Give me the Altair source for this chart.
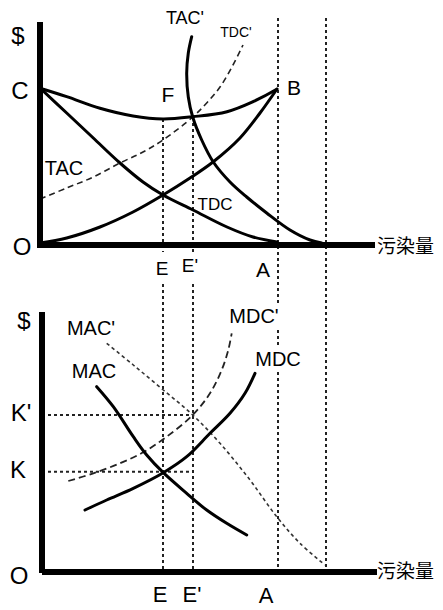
import altair as alt
import pandas as pd

# ---------------- data (picture coordinates) ----------------
# top panel curves
tac_x = [40, 66.7, 100, 133, 163, 193, 227, 253, 276.7]
tac_y = [88.3, 96.7, 108.3, 116, 119, 116.7, 111.7, 101.7, 89.3]

tdc_x = [40, 66.7, 93.3, 120, 143, 163, 193, 227, 253, 277]
tdc_y = [88, 113, 138, 163, 182, 195, 210, 227, 237, 242]

rise_x = [40, 66.7, 100, 133, 163, 190, 213, 240, 260, 277]
rise_y = [243, 238, 227, 212, 195, 178, 162, 138, 113, 89]

tacp_x = [191.7, 188.3, 186.7, 188.3, 192.7, 201.7, 213.3, 230, 246.7, 266.7, 290, 310, 321.7]
tacp_y = [36.7, 53, 73, 97, 117, 140, 162, 182, 197, 213, 230, 240, 243]

tdcp_x = [40, 66.7, 93.3, 120, 143, 163, 192.7, 206.7, 220, 233, 243]
tdcp_y = [199, 188, 177, 163, 152, 140, 117, 103, 87, 65, 45]

# bottom panel curves
mac_x = [96.7, 113.3, 133.3, 146.7, 163.3, 186.7, 206.7, 226.7, 246.7]
mac_y = [386.7, 406.7, 436.7, 455, 472.7, 493.3, 510, 523.3, 535]

mdc_x = [85, 106.7, 133.3, 163.3, 186.7, 210, 230, 245, 255]
mdc_y = [510, 500, 488.3, 472.7, 456.7, 433.3, 413.3, 393.3, 373.3]

mdcp_x = [68.3, 93.3, 120, 143.3, 166.7, 192.7, 210, 221.7, 228.3, 231.7]
mdcp_y = [481, 473.3, 463.3, 452.3, 436.7, 415, 393.3, 370, 350, 333.3]

macp_x = [106.7, 133.3, 163.3, 192.7, 220, 250, 276.7, 300, 325]
macp_y = [343.3, 365, 390, 415, 443.3, 480, 516.7, 543.3, 565]

# axes (x, y, x2, y2)
axis_x = [40, 40, 42, 42]
axis_y = [22, 245, 312, 572]
axis_x2 = [40, 375, 42, 377]
axis_y2 = [248, 245, 573, 572]

# dotted guide segments
guide_x = [163, 163, 193, 193, 278, 278, 278, 326, 42, 42]
guide_y = [119, 284, 117, 284, 18, 330, 372, 18, 415, 471.7]
guide_x2 = [163, 163, 193, 193, 278, 278, 278, 326, 193, 193]
guide_y2 = [252, 572, 252, 572, 303, 347, 572, 572, 415, 471.7]

# labels
lab_text = ["$", "C", "O", "F", "B", "TAC'", "TDC'", "TAC", "TDC", "E", "E'", "A",
            "$", "MAC'", "MDC'", "MDC", "MAC", "K'", "K", "O", "E", "E'", "A"]
lab_x = [18, 20, 22, 168, 294, 185, 236, 64, 215, 162, 190, 263,
         24, 91, 254, 278, 94, 21, 18, 19, 160, 192, 266]
lab_y = [37, 92, 248, 96, 89, 19, 33, 169, 205, 269, 266, 271,
         322, 329, 317, 360, 372, 414, 471, 577, 595, 595, 596]
lab_size = [24, 24, 24, 21, 21, 18, 14, 20, 17, 19, 19, 21,
            24, 20, 20, 20, 20, 24, 24, 24, 22, 22, 22]

cjk_text = ["污染量", "污染量"]
cjk_x = [377, 377]
cjk_y = [247, 572]

# ---------------- chart ----------------
xs = alt.Scale(domain=[8, 435], nice=False, zero=False)
ys = alt.Scale(domain=[8, 602], nice=False, zero=False, reverse=True)
X = alt.X("x:Q", scale=xs, axis=None)
Y = alt.Y("y:Q", scale=ys, axis=None)


def curve(xv, yv, **kw):
    df = pd.DataFrame({"x": xv, "y": yv, "i": list(range(len(xv)))})
    return alt.Chart(df).mark_line(**kw).encode(x=X, y=Y, order="i:Q")


solid = dict(color="black", strokeWidth=3, interpolate="catmull-rom", strokeCap="round")

layers = []

guides = pd.DataFrame({"x": guide_x, "y": guide_y, "x2": guide_x2, "y2": guide_y2})
layers.append(
    alt.Chart(guides).mark_rule(color="#222", strokeWidth=2, strokeDash=[3, 3]).encode(
        x=X, y=Y, x2="x2:Q", y2="y2:Q")
)

layers.append(curve(tdcp_x, tdcp_y, color="#222", strokeWidth=1.6, strokeDash=[6, 4],
                    interpolate="catmull-rom"))
layers.append(curve(mdcp_x, mdcp_y, color="#222", strokeWidth=1.8, strokeDash=[7, 4],
                    interpolate="catmull-rom"))
layers.append(curve(macp_x, macp_y, color="#333", strokeWidth=1.6, strokeDash=[3.5, 3],
                    interpolate="catmull-rom"))

for cx, cy in [(tac_x, tac_y), (tdc_x, tdc_y), (rise_x, rise_y), (tacp_x, tacp_y),
               (mac_x, mac_y), (mdc_x, mdc_y)]:
    layers.append(curve(cx, cy, **solid))

axes = pd.DataFrame({"x": axis_x, "y": axis_y, "x2": axis_x2, "y2": axis_y2})
layers.append(
    alt.Chart(axes).mark_rule(color="black", strokeWidth=6).encode(x=X, y=Y, x2="x2:Q", y2="y2:Q")
)

labels = pd.DataFrame({"t": lab_text, "x": lab_x, "y": lab_y, "s": lab_size})
layers.append(
    alt.Chart(labels).mark_text(font="Liberation Sans", align="center", baseline="middle",
                                color="black").encode(
        x=X, y=Y, text="t:N", size=alt.Size("s:Q", scale=None))
)

cjk = pd.DataFrame({"t": cjk_text, "x": cjk_x, "y": cjk_y})
layers.append(
    alt.Chart(cjk).mark_text(font="Noto Sans CJK SC", align="left", baseline="middle",
                             fontSize=19, color="black").encode(x=X, y=Y, text="t:N")
)

chart = alt.layer(*layers).properties(width=427, height=594, padding=0).configure_view(
    strokeWidth=0)

chart.save("out.html", embed_options={"renderer": "svg", "actions": False})
